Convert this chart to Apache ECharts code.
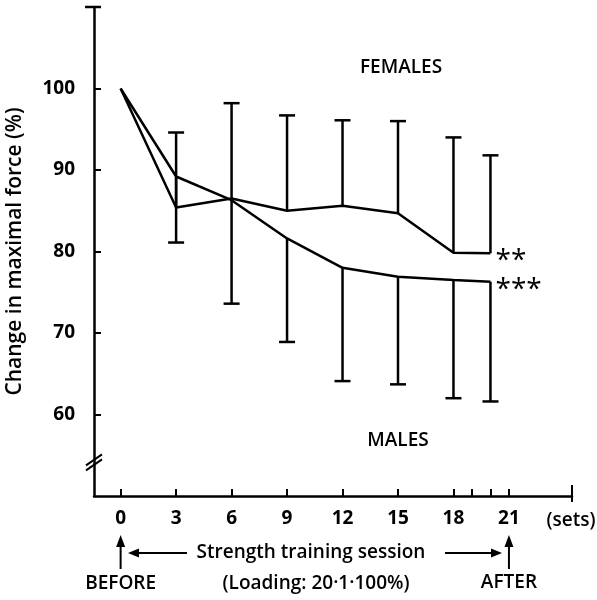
<!DOCTYPE html>
<html><head><meta charset="utf-8">
<script src="https://cdn.jsdelivr.net/npm/echarts@6/dist/echarts.min.js"></script>
<style>html,body{margin:0;padding:0;background:#fff}#c{width:597px;height:600px}</style>
</head><body><div id="c"></div>
<script>
const sets = [0, 3, 6, 9, 12, 15, 18, 20];
const females = [100, 85.4, 86.5, 85.0, 85.6, 84.7, 79.85, 79.8];
const males = [100, 89.2, 86.3, 81.6, 78.0, 76.9, 76.5, 76.3];
const femalesUpper = [null, 94.6, 98.2, 96.7, 96.1, 96.0, 94.0, 91.8];
const malesLower = [null, 81.1, 73.6, 68.9, 64.1, 63.7, 62.0, 61.6];
const femaleMark = '**';
const maleMark = '***';
const xTicks = [0, 3, 6, 9, 12, 15, 18, 19, 20, 21];
const xLabels = [0, 3, 6, 9, 12, 15, 18, 21];
const yTicks = [60, 70, 80, 90, 100];
const yName = 'Change in maximal force (%)';

const FONT = '"Open Sans", "Noto Sans", sans-serif';
const LW = 2.5;
const FS = 19;

function lineData(vals) {
  return sets.map((s, i) => [s, vals[i]]);
}
function errData(vals, ends) {
  const out = [];
  sets.forEach((s, i) => { if (ends[i] != null) out.push([s, vals[i], ends[i]]); });
  return out;
}
function errRender(params, api) {
  const x = api.value(0), y0 = api.value(1), y1 = api.value(2);
  const p0 = api.coord([x, y0]), p1 = api.coord([x, y1]);
  const hw = 8;
  return { type: 'group', children: [
    { type: 'line', shape: { x1: p0[0], y1: p0[1], x2: p1[0], y2: p1[1] }, style: { stroke: '#000', lineWidth: LW } },
    { type: 'line', shape: { x1: p1[0] - hw, y1: p1[1], x2: p1[0] + hw, y2: p1[1] }, style: { stroke: '#000', lineWidth: LW } }
  ]};
}
function endLab(mark) {
  return { show: true, formatter: () => mark, color: '#000', fontSize: 28, fontFamily: FONT, distance: 5, offset: [0, 8] };
}

const chart = echarts.init(document.getElementById('c'), null, { renderer: 'canvas' });
chart.setOption({
  animation: false,
  backgroundColor: '#fff',
  grid: { left: 94, top: 7, width: 478, height: 489, containLabel: false, outerBoundsMode: 'none' },
  xAxis: {
    type: 'value', min: -1.44, max: 24.41,
    axisLine: { onZero: false, lineStyle: { color: '#000', width: LW } },
    axisTick: { show: true, inside: true, length: 7, customValues: xTicks, lineStyle: { color: '#000', width: 2 } },
    axisLabel: { customValues: xLabels, color: '#000', fontSize: FS, fontWeight: 'bold', fontFamily: FONT, margin: 13 },
    splitLine: { show: false }
  },
  yAxis: {
    type: 'value', min: 50, max: 110,
    name: yName, nameLocation: 'middle', nameGap: 68, nameRotate: 90,
    nameTextStyle: { color: '#000', fontSize: 21, fontWeight: 600, fontFamily: FONT },
    axisLine: { show: true, onZero: false, lineStyle: { color: '#000', width: LW } },
    axisTick: { show: true, inside: true, length: 7, customValues: yTicks, lineStyle: { color: '#000', width: 2 } },
    axisLabel: { customValues: yTicks, color: '#000', fontSize: FS, fontWeight: 'bold', fontFamily: FONT, margin: 19 },
    splitLine: { show: false }
  },
  series: [
    { type: 'line', name: 'Females', data: lineData(females), symbol: 'none', lineStyle: { color: '#000', width: LW }, endLabel: endLab(femaleMark), z: 3 },
    { type: 'line', name: 'Males', data: lineData(males), symbol: 'none', lineStyle: { color: '#000', width: LW }, endLabel: endLab(maleMark), z: 3 },
    { type: 'custom', name: 'Females SD', data: errData(females, femalesUpper), renderItem: errRender, z: 2 },
    { type: 'custom', name: 'Males SD', data: errData(males, malesLower), renderItem: errRender, z: 2 }
  ]
});

const P = (x, y) => chart.convertToPixel({ gridIndex: 0 }, [x, y]);
const axX = P(-1.44, 50)[0];
const topY = P(0, 110)[1];
const baseY = P(0, 50)[1];
const rightX = P(24.41, 50)[0];
const x0 = P(0, 50)[0];
const x21 = P(21, 50)[0];
const brk = P(0, 54.5)[1];
const txt = (text, x, y, size, weight, align) => ({
  type: 'text', x: x, y: y,
  style: { text: text, fill: '#000', font: (weight || 600) + ' ' + (size || FS) + 'px ' + FONT, align: align || 'center', verticalAlign: 'middle' }
});
const ln = (x1, y1, x2, y2, w) => ({ type: 'line', shape: { x1, y1, x2, y2 }, style: { stroke: '#000', lineWidth: w || LW } });
const head = (tx, ty, dir) => {
  let pts;
  if (dir === 'l') pts = [[tx, ty], [tx + 11, ty - 4.5], [tx + 11, ty + 4.5]];
  else if (dir === 'r') pts = [[tx, ty], [tx - 11, ty - 4.5], [tx - 11, ty + 4.5]];
  else pts = [[tx, ty], [tx - 4.5, ty + 12], [tx + 4.5, ty + 12]];
  return { type: 'polygon', shape: { points: pts }, style: { fill: '#000' } };
};
const rowY = 553;
chart.setOption({
  graphic: [
    ln(axX - 9, topY, axX + 7, topY),
    ln(rightX, baseY - 11, rightX, baseY + 6, 2),
    ln(axX - 8, brk + 6, axX + 8, brk - 5, 2),
    ln(axX - 8, brk + 11, axX + 8, brk, 2),
    txt('FEMALES', 401, 68, FS, 600),
    txt('MALES', 398, 441, FS, 600),
    txt('(sets)', 571, 521, FS, 600),
    txt('Strength training session', 311, rowY, FS, 600),
    ln(187, rowY, 136, rowY, 2), head(128, rowY, 'l'),
    ln(445, rowY, 494, rowY, 2), head(502, rowY, 'r'),
    ln(x0, 569, x0, 545, 2), head(x0, 535, 'u'),
    ln(x21, 569, x21, 545, 2), head(x21, 535, 'u'),
    txt('BEFORE', x0, 584, FS, 600),
    txt('(Loading: 20·1·100%)', 316, 584, FS, 600),
    txt('AFTER', x21, 583, FS, 600)
  ]
});
</script>
</body></html>
